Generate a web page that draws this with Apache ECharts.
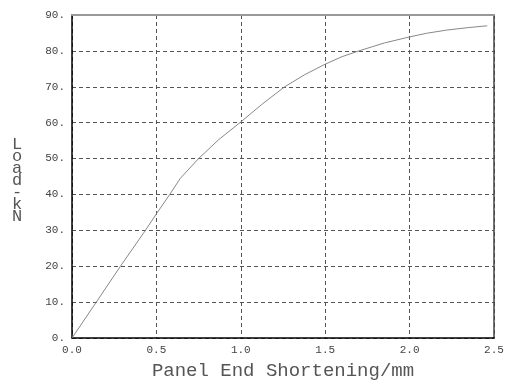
<!DOCTYPE html>
<html>
<head>
<meta charset="utf-8">
<script src="https://cdn.jsdelivr.net/npm/echarts@6/dist/echarts.min.js"></script>
<style>html,body{margin:0;padding:0;background:#fff;}#c{width:505px;height:380px;}</style>
</head>
<body>
<div id="c"></div>
<script>
var shortening = [0, 0.144, 0.287, 0.435, 0.5, 0.579, 0.642, 0.75, 0.87, 1.0, 1.13, 1.26, 1.38, 1.5, 1.6, 1.7, 1.85, 2.0, 2.1, 2.22, 2.35, 2.46];
var load = [0, 10, 20, 30, 34.6, 40, 44.5, 50, 55.3, 60.2, 65.3, 70, 73.4, 76.3, 78.4, 80, 82.2, 83.9, 84.9, 85.8, 86.5, 87.0];
var xTitle = 'Panel End Shortening/mm';
var yTitle = 'Load-kN';

var chart = echarts.init(document.getElementById('c'), null, {renderer: 'canvas'});
var mono = '"Liberation Mono", "DejaVu Sans Mono", monospace';
var pts = shortening.map(function (x, i) { return [x, load[i]]; });
var grid = {left: 72, right: 11, top: 15, bottom: 42, containLabel: false, outerBoundsMode: 'none'};
chart.setOption({
  backgroundColor: '#fff',
  animation: false,
  grid: grid,
  xAxis: [{
    type: 'value', min: 0, max: 2.5, interval: 0.5,
    axisLine: {show: true, lineStyle: {color: '#000', width: 1.5}},
    axisTick: {show: false},
    axisLabel: {fontFamily: mono, fontSize: 11, color: '#444', margin: 7,
      formatter: function (v) { return v.toFixed(1); }},
    splitLine: {show: true, lineStyle: {color: '#555', type: [4, 3], width: 1}},
    name: xTitle, nameLocation: 'middle', nameGap: 23,
    nameTextStyle: {fontFamily: mono, fontSize: 19, color: '#555'}
  }, {
    type: 'value', min: 0, max: 2.5, position: 'top',
    axisLine: {show: true, onZero: false, lineStyle: {color: '#999', width: 2}},
    axisTick: {show: false}, axisLabel: {show: false}, splitLine: {show: false}
  }],
  yAxis: [{
    type: 'value', min: 0, max: 90, interval: 10,
    axisLine: {show: true, lineStyle: {color: '#000', width: 1.5}},
    axisTick: {show: false},
    axisLabel: {fontFamily: mono, fontSize: 11, color: '#444', margin: 7,
      formatter: function (v) { return v + '.'; }},
    splitLine: {show: true, lineStyle: {color: '#555', type: [4, 3], width: 1}}
  }, {
    type: 'value', min: 0, max: 90, position: 'right',
    axisLine: {show: true, onZero: false, lineStyle: {color: '#444', width: 1.5}},
    axisTick: {show: false}, axisLabel: {show: false}, splitLine: {show: false}
  }],
  graphic: [{
    type: 'text', left: 12, top: 136,
    style: {text: yTitle.split('').join('\n'), fontFamily: mono, fontSize: 17, lineHeight: 12,
      fill: '#555', textAlign: 'center'}
  }],
  series: [{
    type: 'line', data: pts, showSymbol: false, smooth: false,
    lineStyle: {color: '#888', width: 1}
  }]
});
</script>
</body>
</html>
